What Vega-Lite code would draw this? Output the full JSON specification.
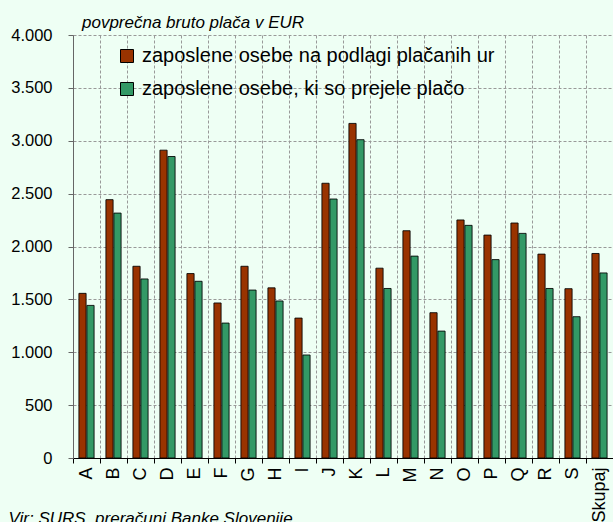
{
  "$schema": "https://vega.github.io/schema/vega-lite/v6.json",
  "width": 540,
  "height": 423,
  "autosize": {"type": "none"},
  "padding": {"left": 73, "top": 35, "right": 0, "bottom": 64},
  "background": "#eefff4",
  "config": {
    "view": {"stroke": null},
    "font": "Liberation Sans",
    "axis": {"labelFont": "Liberation Sans", "labelColor": "#000"}
  },
  "title": {
    "text": "povprečna bruto plača v EUR",
    "anchor": "start",
    "frame": "group",
    "dx": 9,
    "offset": -5,
    "font": "Liberation Sans",
    "fontSize": 17,
    "fontStyle": "italic",
    "fontWeight": "normal",
    "color": "#000"
  },
  "data": {
    "values": [
      {"cat": "A", "s": "zaposlene osebe na podlagi plačanih ur", "v": 1557},
      {"cat": "A", "s": "zaposlene osebe, ki so prejele plačo", "v": 1443},
      {"cat": "B", "s": "zaposlene osebe na podlagi plačanih ur", "v": 2443},
      {"cat": "B", "s": "zaposlene osebe, ki so prejele plačo", "v": 2316},
      {"cat": "C", "s": "zaposlene osebe na podlagi plačanih ur", "v": 1813},
      {"cat": "C", "s": "zaposlene osebe, ki so prejele plačo", "v": 1693},
      {"cat": "D", "s": "zaposlene osebe na podlagi plačanih ur", "v": 2911},
      {"cat": "D", "s": "zaposlene osebe, ki so prejele plačo", "v": 2851},
      {"cat": "E", "s": "zaposlene osebe na podlagi plačanih ur", "v": 1744},
      {"cat": "E", "s": "zaposlene osebe, ki so prejele plačo", "v": 1671},
      {"cat": "F", "s": "zaposlene osebe na podlagi plačanih ur", "v": 1466},
      {"cat": "F", "s": "zaposlene osebe, ki so prejele plačo", "v": 1276},
      {"cat": "G", "s": "zaposlene osebe na podlagi plačanih ur", "v": 1813},
      {"cat": "G", "s": "zaposlene osebe, ki so prejele plačo", "v": 1588},
      {"cat": "H", "s": "zaposlene osebe na podlagi plačanih ur", "v": 1609},
      {"cat": "H", "s": "zaposlene osebe, ki so prejele plačo", "v": 1485},
      {"cat": "I", "s": "zaposlene osebe na podlagi plačanih ur", "v": 1323},
      {"cat": "I", "s": "zaposlene osebe, ki so prejele plačo", "v": 974},
      {"cat": "J", "s": "zaposlene osebe na podlagi plačanih ur", "v": 2598},
      {"cat": "J", "s": "zaposlene osebe, ki so prejele plačo", "v": 2449},
      {"cat": "K", "s": "zaposlene osebe na podlagi plačanih ur", "v": 3164},
      {"cat": "K", "s": "zaposlene osebe, ki so prejele plačo", "v": 3010},
      {"cat": "L", "s": "zaposlene osebe na podlagi plačanih ur", "v": 1795},
      {"cat": "L", "s": "zaposlene osebe, ki so prejele plačo", "v": 1603},
      {"cat": "M", "s": "zaposlene osebe na podlagi plačanih ur", "v": 2149},
      {"cat": "M", "s": "zaposlene osebe, ki so prejele plačo", "v": 1909},
      {"cat": "N", "s": "zaposlene osebe na podlagi plačanih ur", "v": 1374},
      {"cat": "N", "s": "zaposlene osebe, ki so prejele plačo", "v": 1200},
      {"cat": "O", "s": "zaposlene osebe na podlagi plačanih ur", "v": 2251},
      {"cat": "O", "s": "zaposlene osebe, ki so prejele plačo", "v": 2200},
      {"cat": "P", "s": "zaposlene osebe na podlagi plačanih ur", "v": 2108},
      {"cat": "P", "s": "zaposlene osebe, ki so prejele plačo", "v": 1876},
      {"cat": "Q", "s": "zaposlene osebe na podlagi plačanih ur", "v": 2222},
      {"cat": "Q", "s": "zaposlene osebe, ki so prejele plačo", "v": 2124},
      {"cat": "R", "s": "zaposlene osebe na podlagi plačanih ur", "v": 1928},
      {"cat": "R", "s": "zaposlene osebe, ki so prejele plačo", "v": 1603},
      {"cat": "S", "s": "zaposlene osebe na podlagi plačanih ur", "v": 1601},
      {"cat": "S", "s": "zaposlene osebe, ki so prejele plačo", "v": 1336},
      {"cat": "Skupaj", "s": "zaposlene osebe na podlagi plačanih ur", "v": 1934},
      {"cat": "Skupaj", "s": "zaposlene osebe, ki so prejele plačo", "v": 1750}
    ]
  },
  "mark": {"type": "bar", "stroke": "#000", "strokeWidth": 1, "strokeOpacity": 0.85},
  "encoding": {
    "x": {
      "field": "cat",
      "type": "nominal",
      "sort": null,
      "scale": {"paddingInner": 0, "paddingOuter": 0},
      "axis": {
        "title": "Vir: SURS, preračuni Banke Slovenije",
        "titleFont": "Liberation Sans",
        "titleFontSize": 17,
        "titleFontStyle": "italic",
        "titleFontWeight": "normal",
        "titleColor": "#000",
        "titleAnchor": "start",
        "titleAlign": "left",
        "titleBaseline": "top",
        "titleX": -65,
        "titleY": 52,
        "labelAngle": -90,
        "labelFontSize": 18,
        "labelPadding": 4,
        "tickBand": "extent",
        "tickSize": 5,
        "tickColor": "#000",
        "domainColor": "#000",
        "grid": true,
        "gridDash": [3, 2],
        "gridColor": "#999",
        "gridWidth": 1
      }
    },
    "xOffset": {
      "field": "s",
      "type": "nominal",
      "sort": null,
      "scale": {"paddingInner": 0.1, "paddingOuter": 0.74}
    },
    "y": {
      "field": "v",
      "type": "quantitative",
      "scale": {"domain": [0, 4000]},
      "axis": {
        "title": null,
        "values": [0, 500, 1000, 1500, 2000, 2500, 3000, 3500, 4000],
        "labelExpr": "replace(format(datum.value, ','), ',', '.')",
        "labelFontSize": 16.5,
        "labelPadding": 16,
        "tickSize": 5,
        "tickColor": "#666",
        "domainColor": "#666",
        "grid": true,
        "gridDash": [3, 2],
        "gridColor": "#999"
      }
    },
    "color": {
      "field": "s",
      "type": "nominal",
      "sort": null,
      "scale": {"range": ["#993300", "#339966"]},
      "legend": {
        "title": null,
        "orient": "none",
        "legendX": 44,
        "legendY": 11,
        "symbolType": "square",
        "symbolSize": 169,
        "symbolStrokeColor": "#000",
        "symbolStrokeWidth": 1,
        "labelFont": "Liberation Sans",
        "labelFontSize": 20,
        "labelColor": "#000",
        "labelLimit": 0,
        "labelOffset": 5,
        "rowPadding": 13
      }
    }
  }
}
